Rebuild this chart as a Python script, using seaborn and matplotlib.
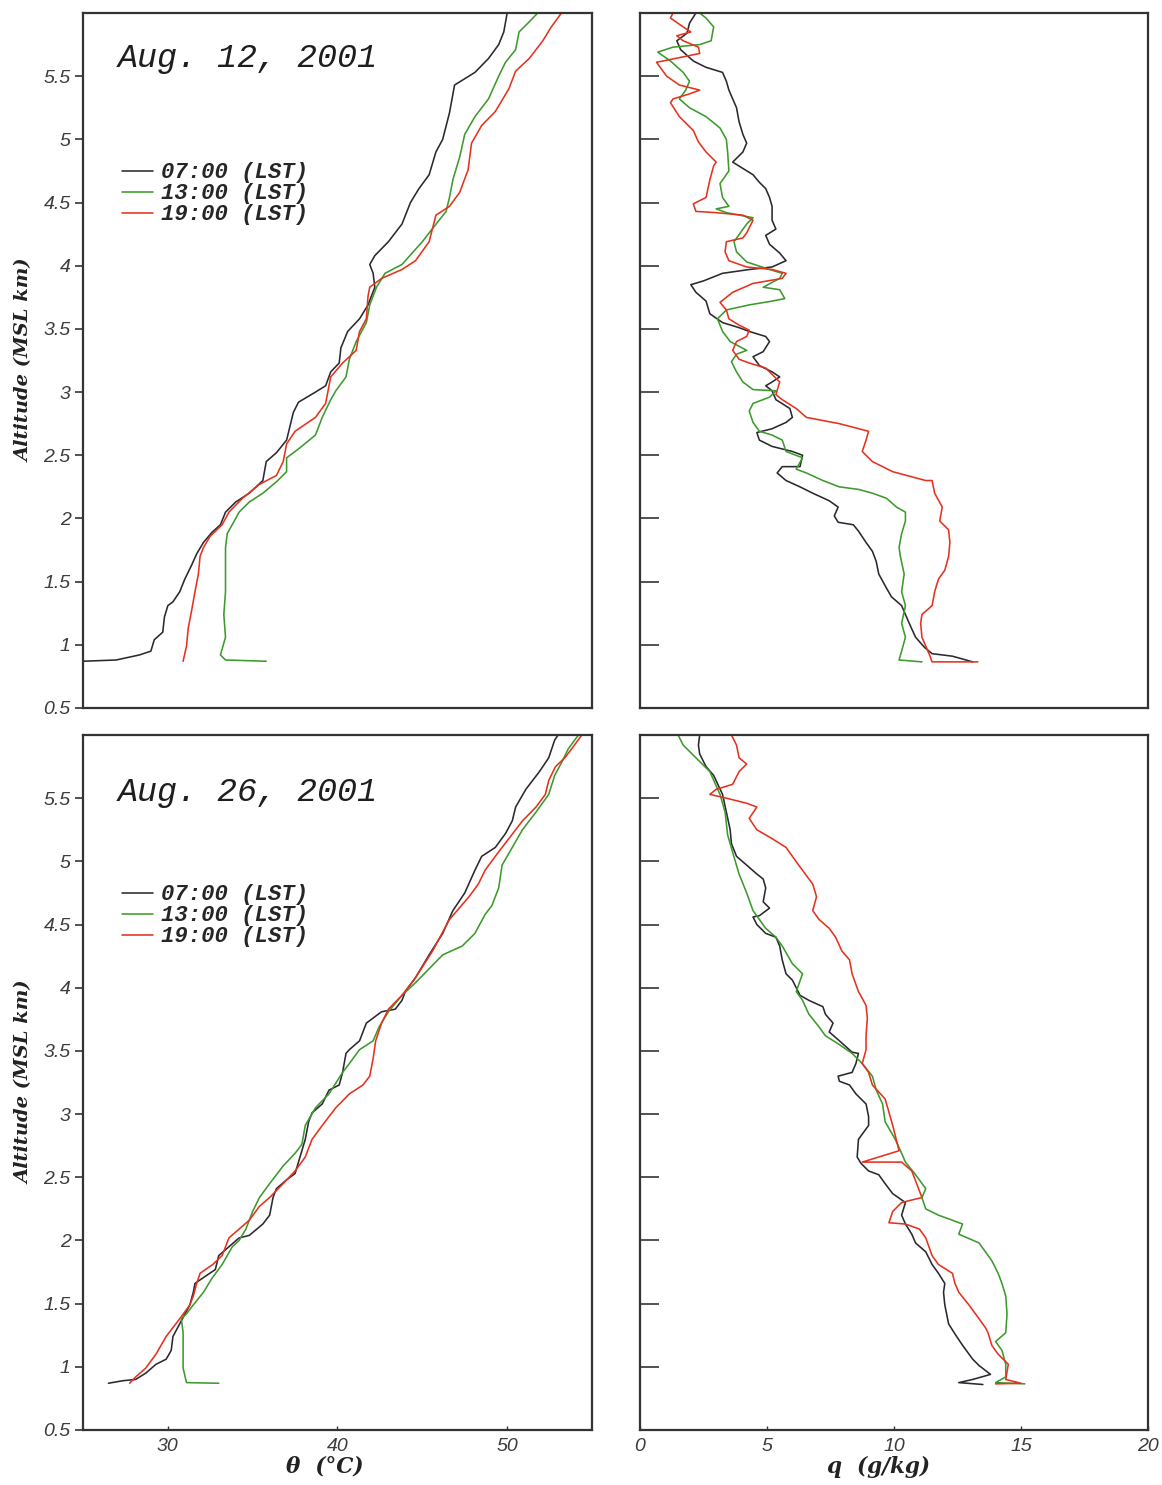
import matplotlib
matplotlib.use("Agg")
import matplotlib.pyplot as plt
import seaborn as sns
from matplotlib.font_manager import FontProperties

# ---------------- data ----------------
# Aug. 12, 2001 potential temperature (deg C) vs altitude (km)
t12_07_theta = [25.0, 26.96, 28.33, 29.0, 29.2, 29.7, 29.8, 30.0, 30.3, 30.7, 31.0, 31.4, 31.7, 32.1, 32.6, 33.1, 33.4, 34.0, 34.8, 35.6,
                35.8, 36.4, 37.0, 37.4, 37.7, 38.7, 39.3, 39.6, 40.1, 40.2, 40.6, 41.3, 41.8, 42.2, 42.1, 41.9, 42.2, 43.0, 43.8, 44.3,
                44.8, 45.4, 45.8, 46.2, 46.6, 46.9, 47.5, 48.1, 48.9, 49.5, 49.8, 50.0]
t12_07_alt = [0.87, 0.88, 0.92, 0.95, 1.04, 1.10, 1.22, 1.31, 1.34, 1.42, 1.52, 1.63, 1.72, 1.81, 1.89, 1.95, 2.05, 2.13, 2.20, 2.30,
              2.45, 2.52, 2.62, 2.84, 2.92, 3.00, 3.05, 3.16, 3.23, 3.35, 3.48, 3.58, 3.69, 3.83, 3.94, 4.01, 4.08, 4.19, 4.33, 4.50,
              4.61, 4.72, 4.90, 5.00, 5.21, 5.43, 5.48, 5.53, 5.64, 5.75, 5.85, 6.0]
t12_13_theta = [35.8, 33.4, 33.1, 33.4, 33.3, 33.4, 33.4, 33.4, 33.5, 34.0, 34.2, 34.8, 35.6, 36.4, 37.0, 37.0, 37.7, 38.7, 39.1,
                39.6, 39.9, 40.5, 40.7, 41.1, 41.7, 41.9, 42.3, 42.8, 43.8, 44.4, 45.0, 45.4, 46.4, 46.6, 46.8, 47.2, 47.5, 48.1, 48.9,
                49.5, 49.9, 50.5, 50.7, 51.3, 51.8]
t12_13_alt = [0.87, 0.88, 0.92, 1.06, 1.24, 1.42, 1.59, 1.77, 1.88, 2.0, 2.05, 2.13, 2.20, 2.29, 2.37, 2.48, 2.55, 2.66, 2.80,
              2.94, 3.01, 3.12, 3.26, 3.40, 3.55, 3.69, 3.83, 3.94, 4.01, 4.10, 4.19, 4.26, 4.43, 4.54, 4.68, 4.86, 5.04, 5.18, 5.32,
              5.50, 5.61, 5.71, 5.85, 5.93, 6.0]
t12_19_theta = [30.9, 31.1, 31.2, 31.4, 31.6, 31.8, 31.9, 32.1, 32.5, 33.2, 33.6, 34.4, 35.4, 36.4, 36.8, 37.0, 37.5, 38.7, 39.3, 39.6,
                40.3, 41.1, 41.3, 41.7, 41.8, 41.9, 42.6, 43.8, 44.6, 45.4, 45.8, 46.6, 47.2, 47.7, 47.9, 48.5, 49.3, 50.1, 50.5, 51.3,
                52.1, 52.6, 53.2]
t12_19_alt = [0.87, 0.99, 1.13, 1.27, 1.42, 1.56, 1.70, 1.77, 1.86, 1.95, 2.05, 2.16, 2.27, 2.34, 2.45, 2.59, 2.69, 2.80, 2.91, 3.12,
              3.23, 3.33, 3.48, 3.58, 3.76, 3.83, 3.90, 3.97, 4.04, 4.19, 4.40, 4.47, 4.58, 4.76, 4.97, 5.11, 5.22, 5.40, 5.54, 5.64,
              5.78, 5.89, 6.0]

# Aug. 12, 2001 specific humidity (g/kg)
q12_07_q = [13.1, 12.3, 11.5, 11.2, 10.85, 10.6, 10.3, 9.9, 9.7, 9.4, 9.3, 9.15, 8.9, 8.6, 8.4, 7.8, 7.65, 7.8, 7.45, 6.8,
            6.3, 5.75, 5.4, 5.6, 6.3, 6.4, 6.0, 5.2, 4.7, 4.6, 5.2, 5.75, 6.0, 5.9, 5.35, 5.2, 4.95, 5.2, 5.5, 5.2,
            4.7, 4.45, 4.85, 5.1, 4.95, 4.3, 3.9, 3.25, 2.75, 2.6, 2.2, 2.0, 2.5, 3.25, 4.3, 5.2, 5.75, 5.5, 5.1, 4.95,
            5.35, 5.2, 5.2, 5.1, 4.95, 4.7, 4.45, 4.05, 3.65, 4.05, 4.2, 4.05, 3.9, 3.8, 3.5, 3.4, 3.25, 2.6, 2.1, 1.6,
            1.45, 1.85, 1.95, 2.2]
q12_07_alt = [0.865, 0.91, 0.93, 0.98, 1.06, 1.17, 1.31, 1.38, 1.45, 1.56, 1.66, 1.74, 1.81, 1.90, 1.95, 1.97, 2.02, 2.09, 2.14, 2.20,
              2.25, 2.30, 2.36, 2.41, 2.41, 2.50, 2.53, 2.57, 2.62, 2.68, 2.71, 2.76, 2.80, 2.87, 2.94, 3.01, 3.05, 3.08, 3.12, 3.16,
              3.21, 3.28, 3.32, 3.40, 3.44, 3.48, 3.51, 3.55, 3.62, 3.72, 3.79, 3.85, 3.88, 3.94, 3.97, 3.99, 4.04, 4.10, 4.17, 4.24,
              4.29, 4.36, 4.47, 4.54, 4.61, 4.66, 4.72, 4.77, 4.82, 4.90, 4.97, 5.04, 5.14, 5.25, 5.39, 5.46, 5.53, 5.57, 5.62, 5.71,
              5.78, 5.84, 5.92, 6.0]
q12_13_q = [11.1, 10.2, 10.3, 10.45, 10.3, 10.45, 10.3, 10.4, 10.25, 10.2, 10.3, 10.45, 10.45, 10.1, 9.7, 9.15, 8.6, 7.85, 7.2, 6.55,
            6.15, 6.4, 5.75, 5.6, 5.2, 4.7, 4.45, 4.3, 4.45, 5.1, 5.35, 4.45, 4.05, 3.8, 3.6, 3.8, 4.2, 3.55, 3.25, 3.05,
            3.4, 4.3, 5.2, 5.7, 5.5, 4.85, 5.5, 5.6, 5.1, 4.2, 3.8, 3.7, 4.2, 4.45, 3.4, 3.0, 3.5, 3.25, 3.15, 3.5,
            3.45, 3.4, 3.15, 2.6, 1.95, 1.55, 1.8, 1.95, 1.7, 1.2, 0.7, 1.3, 2.35, 2.8, 2.9, 2.6, 2.35]
q12_13_alt = [0.865, 0.88, 0.95, 1.06, 1.17, 1.31, 1.42, 1.56, 1.70, 1.77, 1.88, 1.98, 2.05, 2.09, 2.16, 2.20, 2.23, 2.25, 2.30, 2.36,
              2.39, 2.48, 2.53, 2.62, 2.66, 2.69, 2.76, 2.85, 2.91, 2.96, 3.01, 3.02, 3.08, 3.16, 3.24, 3.30, 3.33, 3.40, 3.48, 3.58,
              3.65, 3.69, 3.72, 3.74, 3.81, 3.83, 3.90, 3.94, 3.97, 4.03, 4.11, 4.19, 4.33, 4.38, 4.42, 4.45, 4.47, 4.54, 4.65, 4.75,
              4.90, 5.00, 5.09, 5.18, 5.25, 5.32, 5.39, 5.46, 5.53, 5.62, 5.69, 5.73, 5.75, 5.78, 5.89, 5.96, 6.0]
q12_19_q = [13.3, 11.5, 11.4, 11.25, 11.1, 11.05, 11.1, 11.5, 11.6, 11.75, 12.0, 12.15, 12.2, 12.15, 11.8, 11.9, 11.6, 11.5, 11.25, 9.95,
            9.15, 8.75, 8.9, 9.0, 7.85, 6.55, 6.15, 5.6, 5.35, 5.5, 5.2, 4.95, 4.3, 3.9, 3.65, 3.8, 4.2, 4.3, 3.9, 3.5,
            3.4, 3.15, 3.65, 4.45, 5.6, 5.75, 5.2, 4.2, 3.5, 3.35, 3.4, 4.05, 4.2, 4.45, 4.05, 3.0, 2.2, 2.1, 2.6, 2.75,
            2.9, 3.0, 2.6, 2.3, 2.1, 1.55, 1.2, 1.3, 1.95, 2.35, 1.55, 1.05, 0.65, 0.9, 2.35, 2.3, 1.7, 1.45, 2.0, 1.7,
            1.2, 1.3]
q12_19_alt = [0.865, 0.865, 0.92, 0.99, 1.06, 1.17, 1.24, 1.31, 1.42, 1.52, 1.59, 1.70, 1.81, 1.91, 1.98, 2.09, 2.20, 2.30, 2.30, 2.37,
              2.45, 2.53, 2.62, 2.69, 2.75, 2.80, 2.87, 2.94, 2.98, 3.08, 3.14, 3.19, 3.23, 3.26, 3.33, 3.40, 3.44, 3.49, 3.53, 3.58,
              3.65, 3.71, 3.79, 3.86, 3.90, 3.94, 3.97, 3.99, 4.04, 4.11, 4.19, 4.22, 4.26, 4.36, 4.40, 4.42, 4.43, 4.49, 4.54, 4.68,
              4.79, 4.82, 4.90, 4.98, 5.07, 5.18, 5.29, 5.32, 5.36, 5.39, 5.43, 5.50, 5.61, 5.62, 5.68, 5.73, 5.78, 5.82, 5.85, 5.89,
              5.96, 6.0]

# Aug. 26, 2001 potential temperature
t26_07_theta = [26.5, 27.35, 28.1, 28.7, 29.3, 29.9, 30.2, 30.3, 30.7, 31.3, 31.5, 31.6, 32.25, 32.8, 33.0, 33.6, 34.2, 34.8, 35.6, 36.0,
                36.2, 36.4, 37.0, 37.5, 37.7, 38.1, 38.3, 38.5, 39.1, 39.5, 40.1, 40.3, 40.5, 40.7, 41.3, 41.7, 42.1, 42.6, 43.4, 43.8,
                44.0, 44.6, 45.4, 46.2, 46.8, 47.5, 48.1, 48.5, 49.3, 49.9, 50.3, 50.5, 51.1, 51.9, 52.45, 52.8, 53.0]
t26_07_alt = [0.87, 0.89, 0.90, 0.95, 1.02, 1.06, 1.13, 1.24, 1.34, 1.49, 1.59, 1.66, 1.72, 1.77, 1.88, 1.95, 2.02, 2.04, 2.13, 2.20,
              2.34, 2.41, 2.48, 2.53, 2.62, 2.80, 2.94, 3.01, 3.08, 3.19, 3.23, 3.33, 3.48, 3.51, 3.58, 3.72, 3.76, 3.81, 3.83, 3.90,
              3.97, 4.08, 4.26, 4.43, 4.61, 4.75, 4.93, 5.04, 5.11, 5.22, 5.32, 5.43, 5.57, 5.71, 5.82, 5.96, 6.0]
t26_13_theta = [33.0, 31.1, 30.9, 30.9, 30.9, 30.8, 31.1, 31.5, 32.1, 32.6, 33.2, 33.8, 34.2, 34.6, 34.8, 35.0, 35.4, 36.0, 36.8, 37.5,
                37.9, 38.1, 38.7, 39.5, 40.3, 40.7, 41.3, 42.1, 42.45, 43.0, 43.8, 44.6, 45.4, 46.2, 47.35, 48.1, 48.7, 49.1, 49.5, 49.7,
                50.3, 50.9, 51.7, 52.45, 52.8, 53.2, 53.6, 54.2]
t26_13_alt = [0.87, 0.875, 0.99, 1.13, 1.27, 1.38, 1.42, 1.49, 1.59, 1.70, 1.81, 1.95, 2.00, 2.09, 2.16, 2.23, 2.34, 2.45, 2.59, 2.69,
              2.76, 2.91, 3.05, 3.16, 3.33, 3.40, 3.51, 3.58, 3.69, 3.81, 3.94, 4.04, 4.15, 4.26, 4.33, 4.43, 4.58, 4.65, 4.79, 4.97,
              5.11, 5.25, 5.39, 5.53, 5.68, 5.78, 5.89, 6.0]
t26_19_theta = [27.75, 28.1, 28.7, 29.3, 29.9, 30.7, 31.3, 31.5, 31.7, 31.9, 32.65, 33.2, 33.6, 34.2, 34.8, 35.4, 36.0, 36.8, 37.5, 38.1,
                38.5, 39.1, 39.9, 40.7, 41.5, 41.9, 42.1, 42.25, 42.6, 43.0, 43.8, 44.6, 45.6, 46.6, 47.75, 48.3, 48.7, 49.3, 50.1, 50.9,
                51.7, 52.25, 52.45, 52.85, 53.4, 53.8, 54.4]
t26_19_alt = [0.87, 0.92, 0.99, 1.10, 1.24, 1.38, 1.49, 1.56, 1.66, 1.74, 1.81, 1.88, 2.02, 2.09, 2.16, 2.27, 2.34, 2.45, 2.55, 2.66,
              2.80, 2.91, 3.05, 3.16, 3.23, 3.30, 3.44, 3.58, 3.72, 3.83, 3.94, 4.08, 4.29, 4.54, 4.72, 4.82, 4.93, 5.04, 5.18, 5.32,
              5.43, 5.53, 5.64, 5.75, 5.82, 5.89, 6.0]

# Aug. 26, 2001 specific humidity
q26_07_q = [13.5, 12.55, 13.1, 13.8, 13.35, 13.1, 12.7, 12.4, 12.15, 12.0, 11.95, 12.0, 11.75, 11.5, 11.25, 10.85, 10.7, 10.45, 10.3, 10.45,
            9.95, 9.65, 9.4, 9.0, 8.7, 8.55, 8.6, 9.0, 9.0, 8.9, 8.5, 8.25, 7.85, 7.8, 8.35, 8.5, 8.6, 8.35, 7.85, 7.45,
            7.6, 7.3, 7.2, 6.65, 6.3, 6.15, 6.0, 5.75, 5.6, 5.5, 5.35, 4.95, 4.6, 4.45, 4.7, 5.1, 4.85, 4.95, 4.85, 4.6,
            4.2, 3.8, 3.6, 3.55, 3.4, 3.25, 2.9, 2.6, 2.35, 2.3, 2.35]
q26_07_alt = [0.86, 0.875, 0.90, 0.94, 1.01, 1.06, 1.17, 1.26, 1.34, 1.49, 1.59, 1.66, 1.74, 1.81, 1.91, 1.98, 2.05, 2.13, 2.20, 2.30,
              2.37, 2.45, 2.52, 2.55, 2.61, 2.66, 2.80, 2.91, 2.98, 3.08, 3.16, 3.23, 3.26, 3.30, 3.33, 3.40, 3.48, 3.49, 3.58, 3.65,
              3.72, 3.79, 3.85, 3.90, 3.94, 4.00, 4.06, 4.11, 4.22, 4.33, 4.40, 4.43, 4.50, 4.56, 4.57, 4.63, 4.68, 4.79, 4.86, 4.90,
              4.97, 5.04, 5.14, 5.25, 5.39, 5.53, 5.68, 5.75, 5.85, 5.92, 6.0]
q26_13_q = [15.15, 14.0, 14.4, 14.4, 14.25, 14.0, 14.4, 14.45, 14.4, 14.25, 14.1, 13.85, 13.6, 13.35, 12.55, 12.7, 12.3, 11.75, 11.25, 11.1,
            11.25, 10.85, 10.45, 10.3, 10.05, 9.65, 9.55, 9.3, 9.15, 8.75, 8.35, 7.85, 7.3, 7.05, 6.65, 6.4, 6.15, 6.4, 6.0, 5.6,
            5.35, 4.95, 4.7, 4.45, 4.2, 3.9, 3.65, 3.45, 3.35, 3.15, 2.75, 2.2, 1.7, 1.5]
q26_13_alt = [0.865, 0.875, 0.92, 1.02, 1.13, 1.20, 1.27, 1.42, 1.56, 1.66, 1.74, 1.84, 1.91, 1.98, 2.05, 2.13, 2.16, 2.20, 2.25, 2.34,
              2.41, 2.52, 2.62, 2.69, 2.80, 2.94, 3.08, 3.19, 3.30, 3.40, 3.48, 3.55, 3.62, 3.69, 3.79, 3.90, 3.97, 4.11, 4.19, 4.33,
              4.40, 4.47, 4.54, 4.61, 4.75, 4.90, 5.07, 5.21, 5.39, 5.53, 5.71, 5.82, 5.92, 6.0]
q26_19_q = [14.0, 15.0, 14.4, 14.5, 14.1, 13.85, 13.7, 13.6, 13.35, 12.95, 12.55, 12.4, 12.3, 11.75, 11.5, 11.25, 11.0, 10.45, 9.8, 9.95,
            10.3, 11.1, 10.7, 10.3, 8.75, 10.2, 9.95, 9.65, 9.15, 9.0, 8.75, 8.9, 8.9, 8.95, 8.9, 8.6, 8.35, 8.25, 7.95, 7.7,
            7.45, 7.05, 6.8, 6.95, 6.8, 6.25, 5.75, 5.2, 4.6, 4.3, 4.6, 4.2, 3.4, 2.75, 3.0, 3.65, 3.9, 4.2, 3.9, 3.8, 3.6]
q26_19_alt = [0.865, 0.87, 0.90, 1.02, 1.10, 1.17, 1.27, 1.31, 1.38, 1.49, 1.59, 1.66, 1.74, 1.81, 1.88, 2.02, 2.09, 2.13, 2.14, 2.23,
              2.30, 2.34, 2.55, 2.62, 2.62, 2.71, 2.91, 3.12, 3.23, 3.33, 3.40, 3.51, 3.62, 3.76, 3.86, 3.97, 4.11, 4.22, 4.29, 4.40,
              4.47, 4.54, 4.61, 4.72, 4.82, 4.97, 5.11, 5.18, 5.25, 5.34, 5.43, 5.46, 5.50, 5.53, 5.57, 5.61, 5.71, 5.77, 5.82, 5.92, 6.0]

times = ["07:00 (LST)", "13:00 (LST)", "19:00 (LST)"]
dates = ["Aug. 12, 2001", "Aug. 26, 2001"]
y_ticks = [0.5, 1, 1.5, 2, 2.5, 3, 3.5, 4, 4.5, 5, 5.5]
y_ticklabels = ["0.5", "1", "1.5", "2", "2.5", "3", "3.5", "4", "4.5", "5", "5.5"]
theta_ticks = [30, 40, 50]
q_ticks = [0, 5, 10, 15, 20]

# ---------------- style ----------------
sns.set_theme(style="white")
plt.rcParams["font.family"] = ["Liberation Sans", "DejaVu Sans"]

colors = ["#2c2832", "#3d9a2c", "#e5321f"]
spine_c = "#333333"
tick_c = "#3c3c3c"
lw = 1.15

fig = plt.figure(figsize=(11.62, 14.85), dpi=100)
W, H = 1162.0, 1485.0

def rect(x0, y0, x1, y1):
    return [x0 / W, 1 - y1 / H, (x1 - x0) / W, (y1 - y0) / H]

axes = {
    "tl": fig.add_axes(rect(83, 13, 592, 708)),
    "tr": fig.add_axes(rect(640, 13, 1148, 708)),
    "bl": fig.add_axes(rect(83, 735, 592, 1430)),
    "br": fig.add_axes(rect(640, 735, 1148, 1430)),
}

panels = {
    "tl": [(t12_07_theta, t12_07_alt), (t12_13_theta, t12_13_alt), (t12_19_theta, t12_19_alt)],
    "tr": [(q12_07_q, q12_07_alt), (q12_13_q, q12_13_alt), (q12_19_q, q12_19_alt)],
    "bl": [(t26_07_theta, t26_07_alt), (t26_13_theta, t26_13_alt), (t26_19_theta, t26_19_alt)],
    "br": [(q26_07_q, q26_07_alt), (q26_13_q, q26_13_alt), (q26_19_q, q26_19_alt)],
}

tick_font = FontProperties(family="Liberation Sans", style="italic", size=14)
label_font = FontProperties(family="DejaVu Serif", style="italic", weight="bold", size=14)
xlabel_font = FontProperties(family="DejaVu Serif", style="italic", weight="bold", size=15.5)
leg_font = FontProperties(family="Liberation Mono", style="italic", weight="bold", size=16)
title_font = FontProperties(family="Liberation Mono", style="italic", size=24)

for key, ax in axes.items():
    is_left = key in ("tl", "bl")
    is_bottom = key in ("bl", "br")
    for i, (vals, alts) in enumerate(panels[key]):
        sns.lineplot(x=vals, y=alts, sort=False, estimator=None, color=colors[i],
                     linewidth=lw, ax=ax, label=times[i] if is_left else None,
                     legend=is_left)
    ax.set_ylim(0.5, 6.0)
    ax.set_xlim((25, 55) if is_left else (0, 20))
    for s in ax.spines.values():
        s.set_visible(True)
        s.set_color(spine_c)
        s.set_linewidth(1.6)
    ax.set_yticks(y_ticks)
    if is_left:
        ax.set_yticklabels(y_ticklabels)
        ax.tick_params(axis="y", left=True, direction="out", length=6, width=1.2,
                       color=spine_c, pad=3, labelcolor=tick_c)
        for t in ax.get_yticklabels():
            t.set_fontproperties(tick_font)
        ax.set_ylabel("Altitude (MSL km)", fontproperties=label_font, color="#222222")
        ax.yaxis.set_label_coords(-0.098, 0.5)
    else:
        ax.set_yticklabels([])
        ax.tick_params(axis="y", left=True, direction="in", length=14, width=1.2,
                       color=spine_c)
        ax.set_ylabel("")
    if is_bottom:
        ax.set_xticks(theta_ticks if is_left else q_ticks)
        ax.set_xticklabels([str(v) for v in (theta_ticks if is_left else q_ticks)])
        ax.tick_params(axis="x", bottom=True, direction="in", length=3, width=1.0,
                       color=spine_c, pad=6, labelcolor=tick_c)
        for t in ax.get_xticklabels():
            t.set_fontproperties(tick_font)
        ax.set_xlabel("\u03b8  (\u00b0C)" if is_left else "q  (g/kg)",
                      fontproperties=xlabel_font, color="#222222")
        ax.xaxis.set_label_coords(0.475 if is_left else 0.47, -0.037)
    else:
        ax.set_xticks([])
        ax.set_xlabel("")
    if is_left:
        ax.legend(loc="upper left", bbox_to_anchor=(0.0766, 0.785), frameon=False,
                  prop=leg_font, handlelength=1.4, handletextpad=0.35,
                  labelspacing=0.0, borderpad=0, borderaxespad=0)
        date = dates[0] if key == "tl" else dates[1]
        ty = 0.922 if key == "tl" else 0.905
        ax.text(0.069, ty, date, transform=ax.transAxes, fontproperties=title_font,
                color="#1e1e1e", va="baseline", ha="left")

fig.savefig("out.png", dpi=100)
